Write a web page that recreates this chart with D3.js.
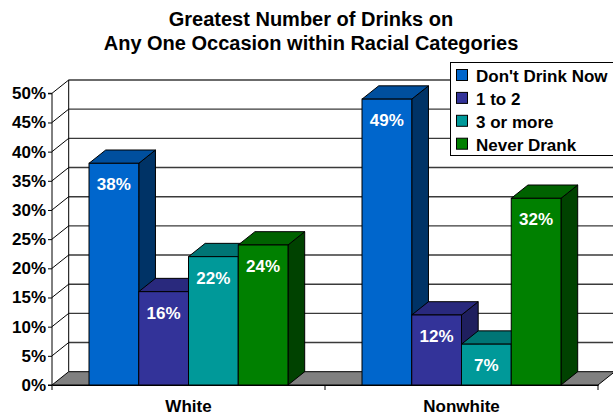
<!DOCTYPE html>
<html>
<head>
<meta charset="utf-8">
<script src="https://cdn.jsdelivr.net/npm/d3@7/dist/d3.min.js"></script>
<style>
  html, body { margin: 0; padding: 0; background: #fff; }
  svg { display: block; font-family: "Liberation Sans", Arial, sans-serif; font-weight: bold; }
</style>
</head>
<body>
<svg id="chart" width="613" height="417"></svg>
<script>
// Data
const categories = ["White", "Nonwhite"];
const seriesNames = ["Don't Drink Now", "1 to 2", "3 or more", "Never Drank"];
const whiteValues = [38, 16, 22, 24];
const nonwhiteValues = [49, 12, 7, 32];
const tickValues = [0, 5, 10, 15, 20, 25, 30, 35, 40, 45, 50];
const titleLines = ["Greatest Number of Drinks on", "Any One Occasion within Racial Categories"];

// Face colours per series: front, top, side
const palette = [
  { front: "#0066cc", top: "#004f9e", side: "#003366" },
  { front: "#333399", top: "#29297d", side: "#1f1f5e" },
  { front: "#009999", top: "#007575", side: "#005454" },
  { front: "#008000", top: "#006200", side: "#004200" }
];

const valuesByCategory = { "White": whiteValues, "Nonwhite": nonwhiteValues };

const svg = d3.select("#chart");

// Plot geometry
const x0 = 52, x1 = 598;
const depthX = 16.7, depthY = 13.3;

const y = d3.scaleLinear().domain([0, 50]).range([385, 93.3]);
const xCat = d3.scaleBand().domain(categories).range([x0, x1]).padding(0);
const xSer = d3.scaleBand().domain(seriesNames).range([0, xCat.bandwidth()])
  .paddingInner(0).paddingOuter(0.744);

const y0 = y(0);
const yTop = y(50);

// Back wall
svg.append("rect")
  .attr("x", x0 + depthX).attr("y", yTop - depthY)
  .attr("width", 613 - x0).attr("height", y0 - yTop)
  .attr("fill", "#fff");

// Back wall gridlines
svg.append("g").selectAll("line")
  .data(tickValues.filter(t => t > 0))
  .join("line")
  .attr("x1", x0 + depthX).attr("x2", 620)
  .attr("y1", d => y(d) - depthY).attr("y2", d => y(d) - depthY)
  .attr("stroke", "#3a3a3a").attr("stroke-width", 1.4);

// Left wall: lines running back from each tick
svg.append("g").selectAll("line")
  .data(tickValues.filter(t => t > 0))
  .join("line")
  .attr("x1", x0).attr("y1", d => y(d))
  .attr("x2", x0 + depthX).attr("y2", d => y(d) - depthY)
  .attr("stroke", "#000").attr("stroke-width", 1);

svg.append("line")
  .attr("x1", x0 + depthX).attr("x2", x0 + depthX)
  .attr("y1", yTop - depthY).attr("y2", y0 - depthY)
  .attr("stroke", "#000").attr("stroke-width", 1);

// Floor
svg.append("path")
  .attr("d", `M${x0},${y0} L${x1},${y0} L${x1 + depthX},${y0 - depthY} L${x0 + depthX},${y0 - depthY} Z`)
  .attr("fill", "#808080").attr("stroke", "#000").attr("stroke-width", 1);

// Y axis
const yAxis = d3.axisLeft(y)
  .tickValues(tickValues)
  .tickSize(4)
  .tickPadding(2)
  .tickFormat(d => d + "%");
const yG = svg.append("g").attr("transform", `translate(${x0},0)`).call(yAxis);
yG.select(".domain").attr("stroke", "#000").attr("d", `M-4,${yTop}H0V${y0}H-4`);
yG.selectAll(".tick line").attr("stroke", "#000");
yG.selectAll(".tick text")
  .attr("fill", "#000")
  .style("font-size", "17px")
  .style("font-family", "'Liberation Sans', Arial, sans-serif")
  .style("font-weight", "bold");

// X axis
const xAxis = d3.axisBottom(xCat).tickSize(0).tickPadding(0);
const xG = svg.append("g").attr("transform", `translate(0,${y0})`).call(xAxis);
xG.select(".domain").attr("stroke", "#000");
xG.selectAll(".tick text")
  .attr("fill", "#000")
  .attr("y", 26.5).attr("dy", 0)
  .style("font-size", "17px")
  .style("font-family", "'Liberation Sans', Arial, sans-serif")
  .style("font-weight", "bold");

// Category separator ticks
const sepX = [x0, x0 + xCat.bandwidth(), x1];
svg.append("g").selectAll("line")
  .data(sepX).join("line")
  .attr("x1", d => d).attr("x2", d => d)
  .attr("y1", y0).attr("y2", y0 + 5)
  .attr("stroke", "#000");

// Bars
const barData = [];
categories.forEach(cat => {
  valuesByCategory[cat].forEach((v, i) => {
    barData.push({ cat, series: seriesNames[i], i, value: v });
  });
});

const bars = svg.append("g").selectAll("g.bar")
  .data(barData)
  .join("g").attr("class", "bar");

bars.each(function(d) {
  const g = d3.select(this);
  const bx = xCat(d.cat) + xSer(d.series);
  const bw = xSer.bandwidth();
  const by = y(d.value);
  const c = palette[d.i];
  // side face
  g.append("path")
    .attr("d", `M${bx + bw},${by} L${bx + bw + depthX},${by - depthY} L${bx + bw + depthX},${y0 - depthY} L${bx + bw},${y0} Z`)
    .attr("fill", c.side).attr("stroke", "#000").attr("stroke-width", 1).attr("stroke-linejoin", "round");
  // top face
  g.append("path")
    .attr("d", `M${bx},${by} L${bx + depthX},${by - depthY} L${bx + bw + depthX},${by - depthY} L${bx + bw},${by} Z`)
    .attr("fill", c.top).attr("stroke", "#000").attr("stroke-width", 1).attr("stroke-linejoin", "round");
  // front face
  g.append("rect")
    .attr("x", bx).attr("y", by)
    .attr("width", bw).attr("height", y0 - by)
    .attr("fill", c.front).attr("stroke", "#000").attr("stroke-width", 1);
  // value label
  g.append("text")
    .attr("x", bx + bw / 2).attr("y", by + 27)
    .attr("text-anchor", "middle")
    .attr("fill", "#fff")
    .style("font-size", "17px")
    .text(d.value + "%");
});

// Legend
const legend = svg.append("g");
legend.append("rect")
  .attr("x", 450.5).attr("y", 62.5)
  .attr("width", 200).attr("height", 93)
  .attr("fill", "#fff").attr("stroke", "#000").attr("stroke-width", 1);
const items = legend.selectAll("g.item")
  .data(seriesNames)
  .join("g").attr("class", "item")
  .attr("transform", (d, i) => `translate(0,${82 + i * 22.9})`);
items.append("rect")
  .attr("x", 456.5).attr("y", -12.5)
  .attr("width", 11).attr("height", 11)
  .attr("fill", (d, i) => palette[i].front)
  .attr("stroke", "#000").attr("stroke-width", 1);
items.append("text")
  .attr("x", 476).attr("y", 0)
  .attr("fill", "#000")
  .style("font-size", "17px")
  .text(d => d);

// Title
svg.append("g").selectAll("text")
  .data(titleLines)
  .join("text")
  .attr("x", 311).attr("y", (d, i) => 26 + i * 24)
  .attr("text-anchor", "middle")
  .attr("fill", "#000")
  .style("font-size", "20px")
  .text(d => d);
</script>
</body>
</html>
